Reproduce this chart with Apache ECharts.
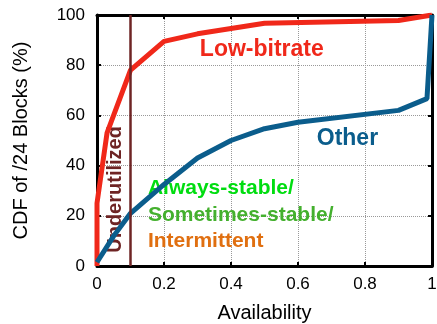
<!DOCTYPE html>
<html>
<head>
<meta charset="utf-8">
<script src="https://cdn.jsdelivr.net/npm/echarts@6/dist/echarts.min.js"></script>
<style>
html,body{margin:0;padding:0;background:#fff;}
#main{width:437px;height:324px;}
</style>
</head>
<body>
<div id="main"></div>
<script>
// CDF curves (availability, % of /24 blocks)
var lowBitrate=[[0,0],[0,25],[0.03,53],[0.1,78],[0.2,89.5],[0.3,92.5],[0.5,96.7],[0.9,97.8],[1,100]];
var other=[[0,1.5],[0.05,12],[0.1,21],[0.2,32.5],[0.3,43],[0.4,50],[0.5,54.7],[0.6,57.3],[0.9,62],[0.985,66.7],[1,100]];
var underutilizedX=0.1;

// text annotations, in data coordinates
var notes=[
	{x:0.307,y:86.3,text:'Low-bitrate',color:'#f0281a',rot:0,size:23},
	{x:0.656,y:50.9,text:'Other',color:'#0b5d8c',rot:0,size:23},
	{x:0.152,y:31,text:'Always-stable/',color:'#00dd10',rot:0,size:21},
	{x:0.152,y:20.3,text:'Sometimes-stable/',color:'#44b02e',rot:0,size:21},
	{x:0.152,y:10,text:'Intermittent',color:'#e06f10',rot:0,size:21},
	{x:0.054,y:30.5,text:'Underutilized',color:'#6e2424',rot:90,size:20}
];

var xTicks={min:0,max:1,interval:0.2};
var yTicks={min:0,max:100,interval:20};

var myChart=echarts.init(document.getElementById('main'));
var fontFam='"Liberation Sans", Arial, sans-serif';

function axisBase(show){
	return {
		axisLine:{show:true,onZero:false,lineStyle:{color:'#000',width:3}},
		axisTick:{show:true,inside:true,length:4,lineStyle:{color:'#000',width:2}},
		axisLabel:{show:show,color:'#000',fontSize:17,fontFamily:fontFam,margin:12},
		splitLine:{show:false}
	};
}

var xb=axisBase(true);
xb.type='value';xb.position='bottom';
xb.min=xTicks.min;xb.max=xTicks.max;xb.interval=xTicks.interval;
xb.name='Availability';xb.nameLocation='middle';xb.nameGap=37;
xb.nameTextStyle={color:'#000',fontSize:20,fontFamily:fontFam};
xb.splitLine={show:true,lineStyle:{color:'#999',type:'dotted',width:1}};
xb.axisLabel.margin=10;

var xt=axisBase(false);
xt.type='value';xt.position='top';
xt.min=xTicks.min;xt.max=xTicks.max;xt.interval=xTicks.interval;

var yl=axisBase(true);
yl.type='value';yl.position='left';
yl.min=yTicks.min;yl.max=yTicks.max;yl.interval=yTicks.interval;
yl.name='CDF of /24 Blocks (%)';yl.nameLocation='middle';yl.nameGap=66;
yl.nameTextStyle={color:'#000',fontSize:20,fontFamily:fontFam};
yl.splitLine={show:true,lineStyle:{color:'#999',type:'dotted',width:1}};

var yr=axisBase(false);
yr.type='value';yr.position='right';
yr.min=yTicks.min;yr.max=yTicks.max;yr.interval=yTicks.interval;

var noteData=[];
for(var i=0;i<notes.length;i++){
	noteData.push({
		value:[notes[i].x,notes[i].y],
		label:{show:true,formatter:notes[i].text,color:notes[i].color,rotate:notes[i].rot,
			fontSize:notes[i].size,
			align:notes[i].rot?'center':'left',verticalAlign:'middle'}
	});
}

var option={
	animation:false,
	grid:{left:97,right:5,top:15,bottom:58,containLabel:false,outerBoundsMode:'none'},
	xAxis:[xb,xt],
	yAxis:[yl,yr],
	series:[
		// text first, curves are drawn over it
		{type:'scatter',data:noteData,symbolSize:0,z:2,silent:true,
			itemStyle:{color:'transparent',opacity:1},
			label:{show:true,position:[0,0],opacity:1,textBorderWidth:0,fontWeight:'bold',fontFamily:fontFam}},
		{type:'line',name:'Low-bitrate',data:lowBitrate,showSymbol:false,
			lineStyle:{color:'#f0281a',width:5},itemStyle:{color:'#f0281a'},z:3,
			markLine:{silent:true,symbol:'none',label:{show:false},
				lineStyle:{color:'#6e2424',width:2.5,type:'solid'},
				data:[{xAxis:underutilizedX}]}},
		{type:'line',name:'Other',data:other,showSymbol:false,
			lineStyle:{color:'#0b5d8c',width:5},itemStyle:{color:'#0b5d8c'},z:4}
	]
};
myChart.setOption(option);
</script>
</body>
</html>
